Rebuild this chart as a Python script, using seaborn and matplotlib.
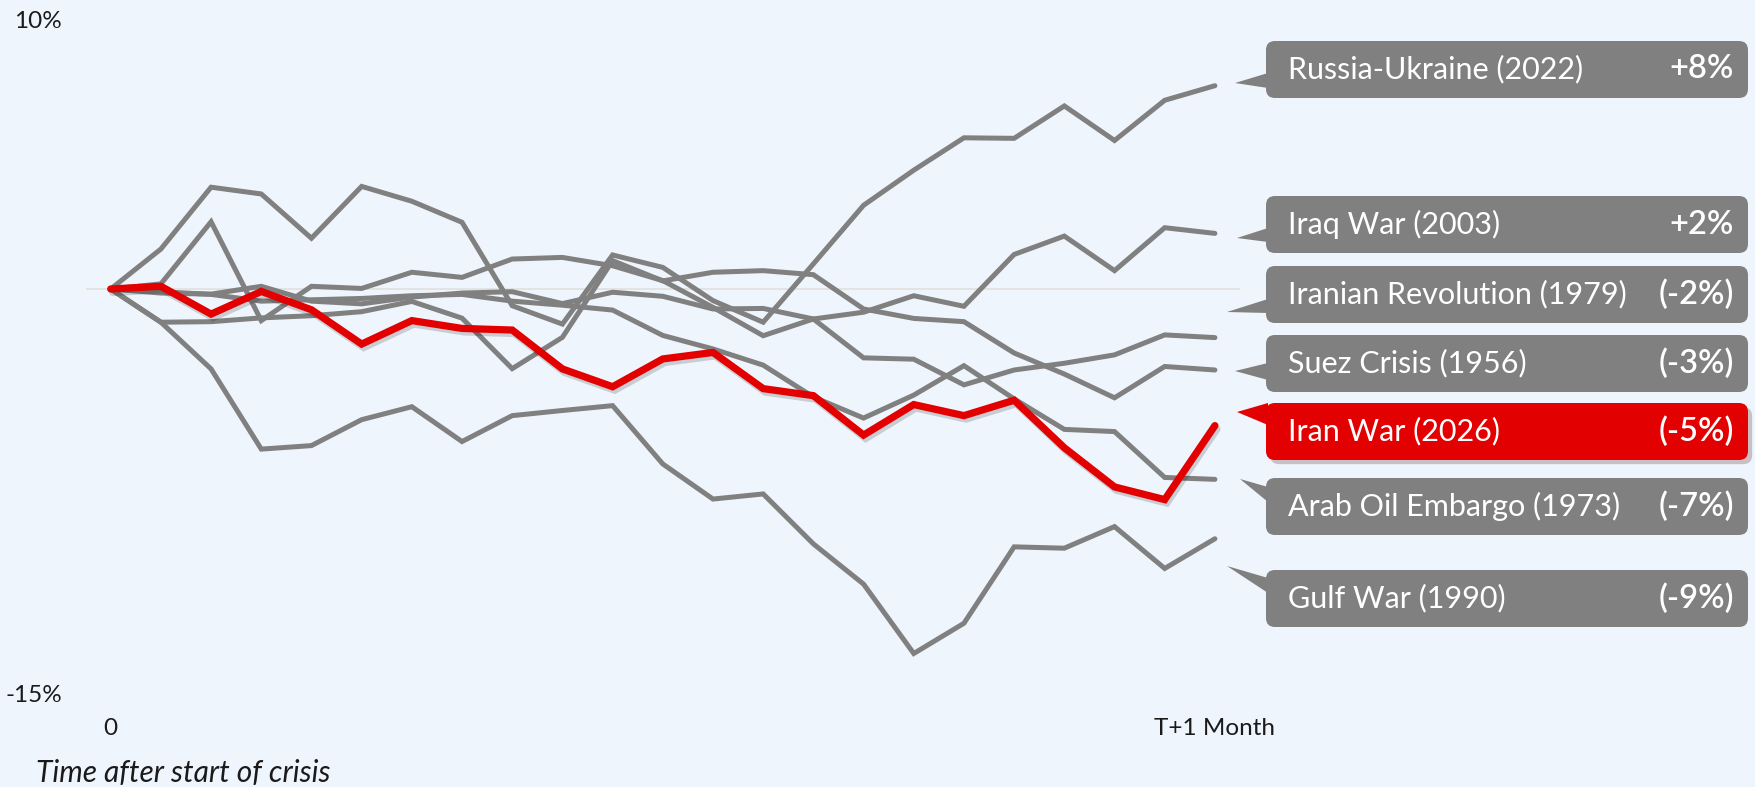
import matplotlib
matplotlib.use("Agg")
import matplotlib.pyplot as plt
import matplotlib.patheffects as pe
from matplotlib.patches import FancyBboxPatch, Polygon
import pandas as pd
import seaborn as sns

# Trading days after the start of each crisis (0 .. one month)
days = list(range(23))

# Cumulative market move since the crisis began, in percent
russia_ukraine_2022 = [0, 1.48, 3.77, 3.52, 1.88, 3.80, 3.25, 2.47, -0.62, -1.30, 1.26, 0.80,
                       -0.43, -1.23, 0.93, 3.10, 4.40, 5.60, 5.58, 6.78, 5.50, 6.99, 7.53]
iraq_war_2003 = [0, 0.19, 2.49, -1.17, 0.10, 0.02, 0.62, 0.43, 1.11, 1.17, 0.86, 0.31,
                 -0.68, -1.73, -1.11, -0.86, -0.25, -0.64, 1.28, 1.96, 0.68, 2.27, 2.06]
iranian_revolution_1979 = [0, -0.15, -0.19, 0.10, -0.45, -0.55, -0.30, -0.15, -0.10, -0.54, -0.12, -0.27,
                           -0.74, -0.72, -1.11, -2.55, -2.60, -3.55, -3.00, -2.75, -2.44, -1.70, -1.80]
suez_crisis_1956 = [0, -1.23, -1.21, -1.07, -0.99, -0.84, -0.46, -1.08, -2.95, -1.79, 1.05, 0.30,
                    0.62, 0.68, 0.53, -0.74, -1.09, -1.21, -2.37, -3.15, -4.03, -2.87, -3.00]
iran_war_2026 = [0, 0.10, -0.93, -0.09, -0.77, -2.04, -1.17, -1.46, -1.52, -2.96, -3.62, -2.59,
                 -2.35, -3.69, -3.95, -5.41, -4.28, -4.69, -4.12, -5.88, -7.33, -7.80, -5.06]
arab_oil_embargo_1973 = [0, -0.10, -0.20, -0.45, -0.40, -0.35, -0.25, -0.20, -0.45, -0.60, -0.78, -1.72,
                         -2.22, -2.82, -4.00, -4.78, -3.93, -2.84, -4.07, -5.20, -5.28, -6.98, -7.05]
gulf_war_1990 = [0, -1.23, -2.96, -5.93, -5.80, -4.84, -4.36, -5.65, -4.69, -4.50, -4.32, -6.48,
                 -7.78, -7.59, -9.44, -10.93, -13.50, -12.38, -9.55, -9.60, -8.80, -10.35, -9.25]

crisis_names = ["Russia-Ukraine (2022)", "Iraq War (2003)", "Iranian Revolution (1979)",
                "Suez Crisis (1956)", "Iran War (2026)", "Arab Oil Embargo (1973)",
                "Gulf War (1990)"]
crisis_series = [russia_ukraine_2022, iraq_war_2003, iranian_revolution_1979,
                 suez_crisis_1956, iran_war_2026, arab_oil_embargo_1973, gulf_war_1990]
highlight = "Iran War (2026)"

x_tick_labels = ["0", "T+1 Month"]
y_tick_values = [10, -15]
y_tick_labels = ["10%", "-15%"]

df = pd.concat(
    [pd.DataFrame({"day": days, "change": vals, "crisis": name})
     for name, vals in zip(crisis_names, crisis_series)],
    ignore_index=True,
)

sns.set_theme(style="white")
plt.rcParams["font.family"] = ["Lato", "DejaVu Sans"]

BG = "#EFF5FC"
GREY = "#808080"
RED = "#E30000"
INK = "#1A1A1A"

W, H = 1756, 787
fig = plt.figure(figsize=(W / 100, H / 100), dpi=100, facecolor=BG)
ax = fig.add_axes([85.6 / W, 93 / H, (1240 - 85.6) / W, 675 / H], facecolor=BG)

ax.axhline(0, color="#E2E3E0", lw=1.3, zorder=0)

others = df[df["crisis"] != highlight]
sns.lineplot(data=others, x="day", y="change", hue="crisis",
             palette={n: GREY for n in crisis_names if n != highlight},
             estimator=None, legend=False, lw=3.6, ax=ax,
             solid_capstyle="round", solid_joinstyle="miter", zorder=2)

focus = df[df["crisis"] == highlight]
sns.lineplot(data=focus, x="day", y="change", color=RED, estimator=None,
             lw=5.2, ax=ax, solid_capstyle="round", solid_joinstyle="miter", zorder=3,
             path_effects=[pe.SimpleLineShadow(offset=(1.5, -2.5), alpha=0.16, shadow_color="black"),
                           pe.Normal()])

ax.set_xlim(-0.5, 22.5)
ax.set_ylim(-15, 10)
ax.set_xticks([days[0], days[-1]], x_tick_labels)
ax.set_yticks(y_tick_values, y_tick_labels)
ax.tick_params(axis="both", length=0, labelsize=17.5, colors=INK)
ax.tick_params(axis="y", pad=17)
ax.tick_params(axis="x", pad=17)
ax.set_xlabel("")
ax.set_ylabel("")
sns.despine(ax=ax, left=True, bottom=True)

fig.text(36 / W, 1 - 773 / H, "Time after start of crisis", style="italic",
         fontsize=21.5, color=INK, va="center", ha="left")

# Callout labels to the right of the plot, drawn in pixel space
ov = fig.add_axes([0, 0, 1, 1], facecolor="none")
ov.set_xlim(0, W)
ov.set_ylim(H, 0)
ov.axis("off")

box_left, box_right = 1266, 1748
box_tops = [41, 196, 266, 335, 403, 478, 570]
box_h = 57
pointer_tips = [(1235, 83), (1237, 238), (1227, 312), (1235, 371), (1237, 412), (1240, 479), (1227, 566)]
pointer_bases = [(73, 88), (228, 242), (299, 313), (363, 380), (403, 425), (487, 502), (578, 593)]


def pct_label(v):
    r = int(round(v))
    return f"+{r}%" if r > 0 else f"({r}%)"


for name, vals, top, tip, base in zip(crisis_names, crisis_series, box_tops, pointer_tips, pointer_bases):
    fc = RED if name == highlight else GREY
    effects = [pe.withSimplePatchShadow(offset=(3, -3), alpha=0.22)] if name == highlight else []
    box = FancyBboxPatch((box_left, top), box_right - box_left, box_h,
                         boxstyle="round,pad=0,rounding_size=9", fc=fc, ec="none",
                         path_effects=effects, zorder=2)
    ov.add_patch(box)
    tri = Polygon([(box_left + 2, base[0]), (box_left + 2, base[1]), tip], closed=True,
                  fc=fc, ec="none", zorder=2)
    ov.add_patch(tri)
    cy = top + box_h / 2
    ov.text(1288, cy, name, color="white", fontsize=22, fontweight="normal",
            va="center", ha="left", zorder=3)
    ov.text(1734, cy, pct_label(vals[-1]), color="white", fontsize=23.5, fontweight="semibold",
            va="center", ha="right", zorder=3)

fig.savefig("out.png", dpi=100, facecolor=BG)
